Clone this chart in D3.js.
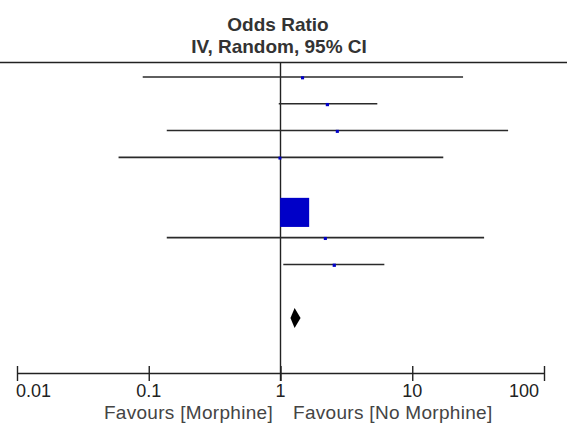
<!DOCTYPE html>
<html>
<head>
<meta charset="utf-8">
<script src="https://cdn.jsdelivr.net/npm/d3@7"></script>
<style>
  html, body { margin: 0; padding: 0; background: #fff; }
  svg { display: block; }
  text { font-family: "Liberation Sans", Arial, sans-serif; }
</style>
</head>
<body>
<svg id="chart" width="567" height="424"></svg>
<script>
// ---- data ----
const rowIndex   = [0, 1, 2, 3, 4, 5, 6, 7];            // study rows (row 4 has no estimate)
const oddsRatio  = [1.47, 2.27, 2.70, 0.99, null, 1.28, 2.19, 2.56];
const ciLower    = [0.09, 0.97, 0.137, 0.059, null, 1.17, 0.137, 1.05];
const ciUpper    = [24.3, 5.43, 53.4, 17.2, null, 1.41, 35.1, 6.14];
const weights    = [1.0, 1.1, 1.0, 0.9, null, 88.0, 1.0, 1.1];
const pooledRow  = 9;
const pooledOR   = 1.28;
const pooledLow  = 1.19;
const pooledHigh = 1.42;
const tickValues = [0.01, 0.1, 1, 10, 100];
const tickLabels = ["0.01", "0.1", "1", "10", "100"];
const titleLines = ["Odds Ratio", "IV, Random, 95% CI"];
const favoursLeft  = "Favours [Morphine]";
const favoursRight = "Favours [No Morphine]";

// ---- scales ----
const svg = d3.select("#chart");
const x = d3.scaleLog().domain([0.01, 100]).range([17, 544]);
const y = d3.scaleLinear().domain([0, 9]).range([77, 318]);
const size = d3.scaleSqrt().domain([0, 100]).range([0, 31]);
const axisY = 373;
const ink = "#222";

// title
svg.append("text").attr("x", 278).attr("y", 31)
  .attr("text-anchor", "middle").attr("font-size", 19).attr("font-weight", "bold")
  .attr("fill", "#333").text(titleLines[0]);
svg.append("text").attr("x", 279).attr("y", 53)
  .attr("text-anchor", "middle").attr("font-size", 19).attr("font-weight", "bold")
  .attr("fill", "#333").text(titleLines[1]);

// top rule
svg.append("line").attr("x1", 0).attr("x2", 567).attr("y1", 62.5).attr("y2", 62.5)
  .attr("stroke", ink).attr("stroke-width", 1.6);

// line of no effect
svg.append("line").attr("x1", x(1)).attr("x2", x(1)).attr("y1", 62).attr("y2", axisY + 8)
  .attr("stroke", ink).attr("stroke-width", 1.4);

// study rows
const studies = rowIndex.map(i => ({
  row: i, or: oddsRatio[i], lo: ciLower[i], hi: ciUpper[i], w: weights[i]
})).filter(d => d.or != null);

svg.append("g").selectAll("line").data(studies).join("line")
  .attr("x1", d => x(d.lo)).attr("x2", d => x(d.hi))
  .attr("y1", d => y(d.row)).attr("y2", d => y(d.row))
  .attr("stroke", "#2a2a2a").attr("stroke-width", 1.6);

svg.append("g").selectAll("rect").data(studies).join("rect")
  .attr("x", d => x(d.or) - size(d.w) / 2)
  .attr("y", d => y(d.row) - size(d.w) / 2 + (d.w > 10 ? 1.5 : 0.8))
  .attr("width", d => size(d.w)).attr("height", d => size(d.w))
  .attr("fill", "#0000c8");

// pooled diamond
const dy = y(pooledRow);
svg.append("path")
  .attr("d", `M${x(pooledLow)},${dy} L${x(pooledOR)},${dy - 10} L${x(pooledHigh)},${dy} L${x(pooledOR)},${dy + 10} Z`)
  .attr("fill", "#000");

// axis
const axis = d3.axisBottom(x).tickValues(tickValues).tickSizeOuter(0).tickSizeInner(8).tickFormat("");
const ag = svg.append("g").attr("transform", `translate(0,${axisY})`).call(axis);
ag.select(".domain").attr("stroke", ink).attr("stroke-width", 1.6);
ag.selectAll(".tick line").attr("y1", -7).attr("y2", 8).attr("stroke", ink).attr("stroke-width", 1.4);

svg.append("g").selectAll("text").data(tickValues).join("text")
  .attr("x", (d, i) => x(d) + (i === 0 ? -1 : i === tickValues.length - 1 ? -5 : 0))
  .attr("y", 397)
  .attr("text-anchor", (d, i) => i === 0 ? "start" : i === tickValues.length - 1 ? "end" : "middle")
  .attr("font-size", 18).attr("fill", ink)
  .text((d, i) => tickLabels[i]);

// favours labels
svg.append("text").attr("x", 273).attr("y", 419).attr("text-anchor", "end")
  .attr("font-size", 19).attr("letter-spacing", 0.3).attr("fill", "#444").text(favoursLeft);
svg.append("text").attr("x", 293).attr("y", 419).attr("text-anchor", "start")
  .attr("font-size", 19).attr("letter-spacing", 0.3).attr("fill", "#444").text(favoursRight);
</script>
</body>
</html>
